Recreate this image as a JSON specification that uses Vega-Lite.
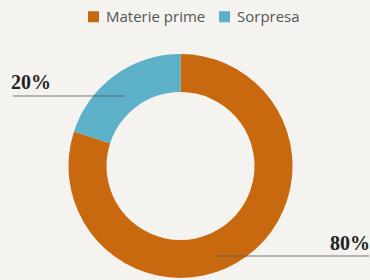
{
  "$schema": "https://vega.github.io/schema/vega-lite/v6.json",
  "width": 370,
  "height": 280,
  "padding": 0,
  "autosize": {"type": "fit", "contains": "padding"},
  "background": "#f4f3ef",
  "config": {"view": {"stroke": null}},
  "layer": [
    {
      "data": {"values": [
        {"categoria": "Materie prime", "valore": 80},
        {"categoria": "Sorpresa", "valore": 20}
      ]},
      "mark": {"type": "arc", "innerRadius": 74, "outerRadius": 112},
      "encoding": {
        "theta": {"field": "valore", "type": "quantitative", "stack": true},
        "x": {"datum": 181, "type": "quantitative", "scale": {"domain": [0, 370], "nice": false, "zero": false}, "axis": null},
        "y": {"datum": 166, "type": "quantitative", "scale": {"domain": [0, 280], "reverse": true, "nice": false, "zero": false}, "axis": null},
        "color": {
          "field": "categoria", "type": "nominal",
          "scale": {"domain": ["Materie prime", "Sorpresa"], "range": ["#c8690f", "#5cb0c8"]},
          "legend": {
            "title": null, "orient": "none", "direction": "horizontal",
            "legendX": 86, "legendY": 9,
            "symbolType": "square", "symbolSize": 121, "symbolStrokeWidth": 0,
            "labelFont": "Open Sans", "labelFontSize": 15, "labelColor": "#555555",
            "columnPadding": 11, "labelOffset": 5
          }
        }
      }
    },
    {
      "data": {"values": [{}]},
      "mark": {"type": "rule", "color": "#555555", "strokeWidth": 1, "opacity": 0.8},
      "encoding": {
        "x": {"datum": 13, "type": "quantitative"},
        "x2": {"datum": 125},
        "y": {"datum": 96, "type": "quantitative"}
      }
    },
    {
      "data": {"values": [{}]},
      "mark": {"type": "rule", "color": "#555555", "strokeWidth": 1, "opacity": 0.8},
      "encoding": {
        "x": {"datum": 217, "type": "quantitative"},
        "x2": {"datum": 370},
        "y": {"datum": 256, "type": "quantitative"}
      }
    },
    {
      "data": {"values": [{}]},
      "mark": {"type": "text", "font": "Liberation Serif", "fontWeight": "bold", "fontSize": 20, "color": "#222222", "align": "left", "baseline": "alphabetic"},
      "encoding": {
        "x": {"datum": 11, "type": "quantitative"},
        "y": {"datum": 89, "type": "quantitative"},
        "text": {"value": "20%"}
      }
    },
    {
      "data": {"values": [{}]},
      "mark": {"type": "text", "font": "Liberation Serif", "fontWeight": "bold", "fontSize": 20, "color": "#222222", "align": "left", "baseline": "alphabetic"},
      "encoding": {
        "x": {"datum": 331, "type": "quantitative"},
        "y": {"datum": 250, "type": "quantitative"},
        "text": {"value": "80%"}
      }
    }
  ]
}
